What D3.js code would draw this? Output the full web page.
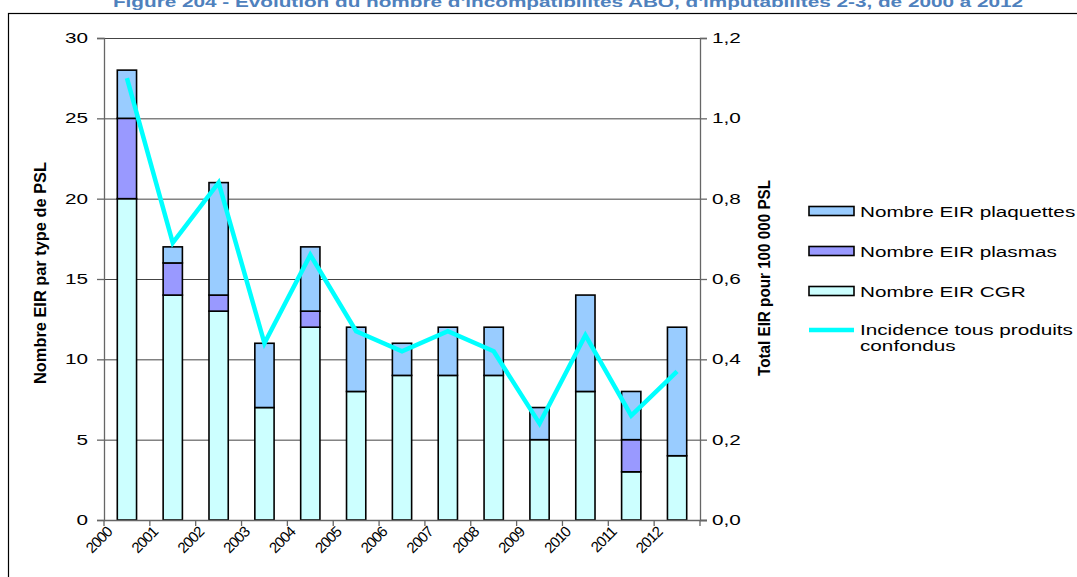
<!DOCTYPE html>
<html>
<head>
<meta charset="utf-8">
<script src="https://cdn.jsdelivr.net/npm/d3@7/dist/d3.min.js"></script>
<style>
  html, body { margin: 0; padding: 0; background: #fff; }
  svg { display: block; font-family: "Liberation Sans", Arial, sans-serif; }
</style>
</head>
<body>
<svg id="chart" width="1077" height="577"></svg>
<script>
// Data
const years = ["2000","2001","2002","2003","2004","2005","2006","2007","2008","2009","2010","2011","2012"];
const cgr        = [20, 14, 13, 7, 12, 8, 9, 9, 9, 5, 8, 3, 4];
const plasmas    = [5, 2, 1, 0, 1, 0, 0, 0, 0, 0, 0, 2, 0];
const plaquettes = [3, 1, 7, 4, 4, 4, 2, 3, 3, 2, 6, 3, 8];
const incidence  = [1.10, 0.69, 0.84, 0.44, 0.66, 0.47, 0.42, 0.47, 0.42, 0.24, 0.46, 0.26, 0.37];
const leftTicks  = [0, 5, 10, 15, 20, 25, 30];
const rightTicks = [0, 0.2, 0.4, 0.6, 0.8, 1.0, 1.2];

const seriesKeys   = ["cgr", "plasmas", "plaquettes"];
const seriesLabels = { plaquettes: "Nombre EIR plaquettes", plasmas: "Nombre EIR plasmas", cgr: "Nombre EIR CGR" };
const seriesColors = { plaquettes: "#99ccff", plasmas: "#9999ff", cgr: "#ccffff" };
const lineLabel = ["Incidence tous produits", "confondus"];
const titleText = "Figure 204 - Évolution du nombre d'incompatibilités ABO, d'imputabilités 2-3, de 2000 à 2012";

const table = years.map((y, i) => ({ year: y, cgr: cgr[i], plasmas: plasmas[i], plaquettes: plaquettes[i], inc: incidence[i] }));

const svg = d3.select("#chart");
const SX = 1.48; // horizontal stretch of the text

// Text helper: stretched horizontally around its anchor point
function wideText(parent, x, y, str, opts = {}) {
  const t = parent.append("text")
    .attr("transform", `translate(${x},${y}) scale(${SX},1)`)
    .attr("font-size", opts.size || 14)
    .attr("text-anchor", opts.anchor || "start")
    .attr("fill", opts.fill || "#000")
    .text(str);
  if (opts.weight) t.attr("font-weight", opts.weight);
  return t;
}

// Frame and title
svg.append("rect").attr("x", 8.5).attr("y", 13.5).attr("width", 1100).attr("height", 600)
  .attr("fill", "none").attr("stroke", "#000").attr("stroke-width", 1.2);
wideText(svg, 568, 6.5, titleText, { size: 14, anchor: "middle", weight: "bold", fill: "#4f81bd" });

// Plot area
const plot = { left: 104, right: 700, top: 38, bottom: 520 };

const x = d3.scaleBand().domain(years).range([plot.left, plot.right]).paddingInner(0).paddingOuter(0);
const yL = d3.scaleLinear().domain([0, 30]).range([plot.bottom, plot.top]);
const yR = d3.scaleLinear().domain([0, 1.2]).range([plot.bottom, plot.top]);
const barW = x.bandwidth() * 0.42;

// Grid lines
svg.append("g").selectAll("line").data(leftTicks.filter(t => t > 0)).join("line")
  .attr("x1", plot.left).attr("x2", plot.right)
  .attr("y1", d => yL(d) + 0.5).attr("y2", d => yL(d) + 0.5)
  .attr("stroke", "#444").attr("stroke-width", 1);

// Stacked bars
const stack = d3.stack().keys(seriesKeys)(table);
svg.append("g").selectAll("g").data(stack).join("g")
  .attr("fill", d => seriesColors[d.key])
  .selectAll("rect").data(d => d.filter(s => s[1] - s[0] > 0)).join("rect")
  .attr("x", d => x(d.data.year) + (x.bandwidth() - barW) / 2)
  .attr("width", barW)
  .attr("y", d => yL(d[1]))
  .attr("height", d => yL(d[0]) - yL(d[1]))
  .attr("stroke", "#000").attr("stroke-width", 1.6);

// Left and right axes (lines and ticks from d3, labels drawn stretched)
const gL = svg.append("g").attr("transform", `translate(${plot.left},0)`)
  .call(d3.axisLeft(yL).tickValues(leftTicks).tickSize(7).tickFormat(""));
const gR = svg.append("g").attr("transform", `translate(${plot.right},0)`)
  .call(d3.axisRight(yR).tickValues(rightTicks).tickSize(7).tickFormat(""));
[gL, gR].forEach(g => {
  g.select(".domain").attr("stroke", "#666").attr("stroke-width", 1.3);
  g.selectAll(".tick line").attr("stroke", "#666").attr("stroke-width", 1.3);
});
const labelsL = svg.append("g");
leftTicks.forEach(t => wideText(labelsL, plot.left - 16, yL(t) + 5, d3.format("d")(t), { size: 14, anchor: "end" }));
const labelsR = svg.append("g");
rightTicks.forEach(t => wideText(labelsR, plot.right + 12, yR(t) + 5, d3.format(".1f")(t).replace(".", ","), { size: 14 }));

// Bottom axis with ticks at category boundaries
const boundaries = years.map(y => x(y)).concat([plot.right]);
const gB = svg.append("g");
gB.append("line").attr("x1", plot.left).attr("x2", plot.right + 7)
  .attr("y1", plot.bottom + 0.5).attr("y2", plot.bottom + 0.5).attr("stroke", "#666").attr("stroke-width", 1.3);
gB.selectAll("line.tk").data(boundaries).join("line").attr("class", "tk")
  .attr("x1", d => d).attr("x2", d => d).attr("y1", plot.bottom).attr("y2", plot.bottom + 6)
  .attr("stroke", "#666").attr("stroke-width", 1.3);
gB.selectAll("text").data(years).join("text")
  .attr("transform", (d, i) => `translate(${boundaries[i] + 9},${plot.bottom + 13}) rotate(-45)`)
  .attr("text-anchor", "end").attr("font-size", 15).attr("letter-spacing", -0.9).attr("fill", "#000")
  .text(d => d);

// Incidence line
const line = d3.line().x(d => x(d.year) + x.bandwidth() / 2).y(d => yR(d.inc));
svg.append("path").datum(table).attr("d", line)
  .attr("fill", "none").attr("stroke", "#00ffff").attr("stroke-width", 4.5)
  .attr("stroke-linejoin", "miter");

// Axis titles
svg.append("text").attr("transform", "translate(46,273) rotate(-90) scale(1,1.3)")
  .attr("text-anchor", "middle").attr("font-weight", "bold").attr("font-size", 13)
  .attr("textLength", 222).attr("lengthAdjust", "spacingAndGlyphs")
  .text("Nombre EIR par type de PSL");
svg.append("text").attr("transform", "translate(770,278) rotate(-90) scale(1,1.3)")
  .attr("text-anchor", "middle").attr("font-weight", "bold").attr("font-size", 13)
  .attr("textLength", 196).attr("lengthAdjust", "spacingAndGlyphs")
  .text("Total EIR pour 100 000 PSL");

// Legend
const legend = svg.append("g");
const legendKeys = ["plaquettes", "plasmas", "cgr"];
legendKeys.forEach((k, i) => {
  const cy = 211 + i * 40;
  legend.append("rect").attr("x", 809).attr("y", cy - 4.5).attr("width", 45).attr("height", 9)
    .attr("fill", seriesColors[k]).attr("stroke", "#000").attr("stroke-width", 1.6);
  wideText(legend, 860, cy + 5.5, seriesLabels[k], { size: 14 });
});
legend.append("line").attr("x1", 809).attr("x2", 854).attr("y1", 330).attr("y2", 330)
  .attr("stroke", "#00ffff").attr("stroke-width", 4.5);
lineLabel.forEach((t, i) => wideText(legend, 860, 335 + i * 16, t, { size: 14 }));
</script>
</body>
</html>
